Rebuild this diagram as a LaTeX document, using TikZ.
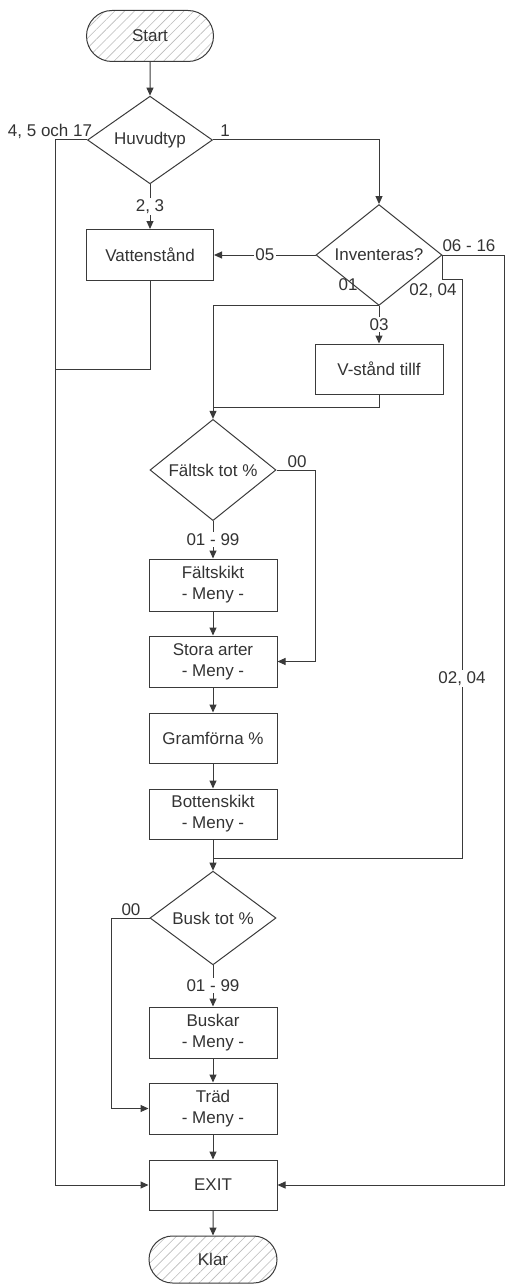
\documentclass[tikz,border=0pt]{standalone}
\usepackage{fontspec}
\setmainfont{Liberation Sans}
\usetikzlibrary{shapes.geometric,shapes.misc,arrows.meta,patterns.meta}
\definecolor{ln}{HTML}{3A3A3A}
\definecolor{tx}{HTML}{333333}
\definecolor{hatch}{HTML}{BBBBBB}
\begin{document}
\begin{tikzpicture}[x=1pt,y=-1pt,
 font=\fontsize{17}{21}\selectfont,
 every node/.style={text=tx},
 box/.style={draw=ln,line width=1pt,rectangle,minimum width=128pt,minimum height=51pt,inner sep=0pt,align=center},
 dec/.style={draw=ln,line width=1pt,diamond,minimum width=126pt,minimum height=75pt,inner sep=0pt},
 term/.style={draw=ln,line width=1pt,rounded rectangle,minimum width=127pt,minimum height=51pt,inner sep=0pt,pattern={Lines[angle=45,distance=7pt,line width=0.6pt]},pattern color=hatch},
 conn/.style={draw=ln,line width=1pt},
 arr/.style={conn,-{Triangle[length=8pt,width=7pt]}},
 lbl/.style={inner sep=1pt},
 onl/.style={fill=white,inner sep=1.5pt},
]
\useasboundingbox (0,0) rectangle (505,1284);

\node[term] (start) at (150,36) {Start};
\node[dec,minimum width=125pt,minimum height=74pt] (huvud) at (150,140) {Huvudtyp};
\node[box,minimum width=127pt] (vatten) at (150,255) {Vattenstånd};
\node[dec,minimum height=76pt] (inv) at (379,255) {Inventeras?};
\node[box,minimum height=50pt] (vstand) at (379,369) {V-stånd tillf};
\node[dec] (faltsk) at (213,470) {Fältsk tot \%};
\node[box,minimum height=52pt] (faltskikt) at (213,585) {Fältskikt\\- Meny -};
\node[box] (stora) at (213,661.5) {Stora arter\\- Meny -};
\node[box,minimum height=50pt] (gram) at (213,738) {Gramförna \%};
\node[box,minimum height=50pt] (botten) at (213,814) {Bottenskikt\\- Meny -};
\node[dec] (busk) at (213,918) {Busk tot \%};
\node[box] (buskar) at (213,1032.5) {Buskar\\- Meny -};
\node[box] (trad) at (213,1108.5) {Träd\\- Meny -};
\node[box,minimum height=50pt] (exit) at (213,1185) {EXIT};
\node[term,minimum width=128pt,minimum height=47pt] (klar) at (213,1259.5) {Klar};

\coordinate (vj) at (55,369);
\coordinate (vj2) at (213,407);
\coordinate (r1) at (504,255);
\coordinate (c1) at (462,279);
\coordinate (c2) at (462,858);
\coordinate (c3) at (213,858);

\draw[arr] (start) -- (huvud);
\draw[arr] (huvud.west) -- ++(-32,0) |- (exit.west);
\node[lbl] (l4517) at (50,131) {4, 5 och 17};
\draw[arr] (huvud.east) -| (inv.north);
\node[lbl] (l1) at (225,131) {1};
\draw[arr] (huvud.south) -- node[onl] (l23) {2, 3} (vatten.north);
\draw[arr] (inv.west) -- node[onl] (l05) {05} (vatten.east);
\draw[conn] (vatten.south) |- (vj);
\draw[arr] (inv.south) -- node[onl] (l03) {03} (vstand.north);
\draw[arr] (inv.south) -| (faltsk.north);
\node[lbl] (l01) at (348,285) {01};
\draw[conn] (vstand.south) |- (vj2);
\draw[arr] (inv.east) -- (r1) |- (exit.east);
\node[lbl] (l0616) at (469,246) {06 - 16};
\draw[conn] (inv.east) |- (c1) -- node[onl,pos=0.69] (l0204b) {02, 04} (c2) -- (c3);
\node[lbl] (l0204a) at (433,291) {02, 04};

\draw[arr] (faltsk.south) -- node[onl] (l0199a) {01 - 99} (faltskikt.north);
\draw[arr] (faltsk.east) -- ++(39,0) |- (stora.east);
\node[lbl] (l00a) at (297,462) {00};
\draw[arr] (faltskikt) -- (stora);
\draw[arr] (stora) -- (gram);
\draw[arr] (gram) -- (botten);
\draw[arr] (botten) -- (busk);
\draw[arr] (busk.west) -- ++(-38,0) |- (trad.west);
\node[lbl] (l00b) at (131,910) {00};
\draw[arr] (busk.south) -- node[onl] (l0199b) {01 - 99} (buskar.north);
\draw[arr] (buskar) -- (trad);
\draw[arr] (trad) -- (exit);
\draw[arr] (exit) -- (klar);
\end{tikzpicture}
\end{document}
